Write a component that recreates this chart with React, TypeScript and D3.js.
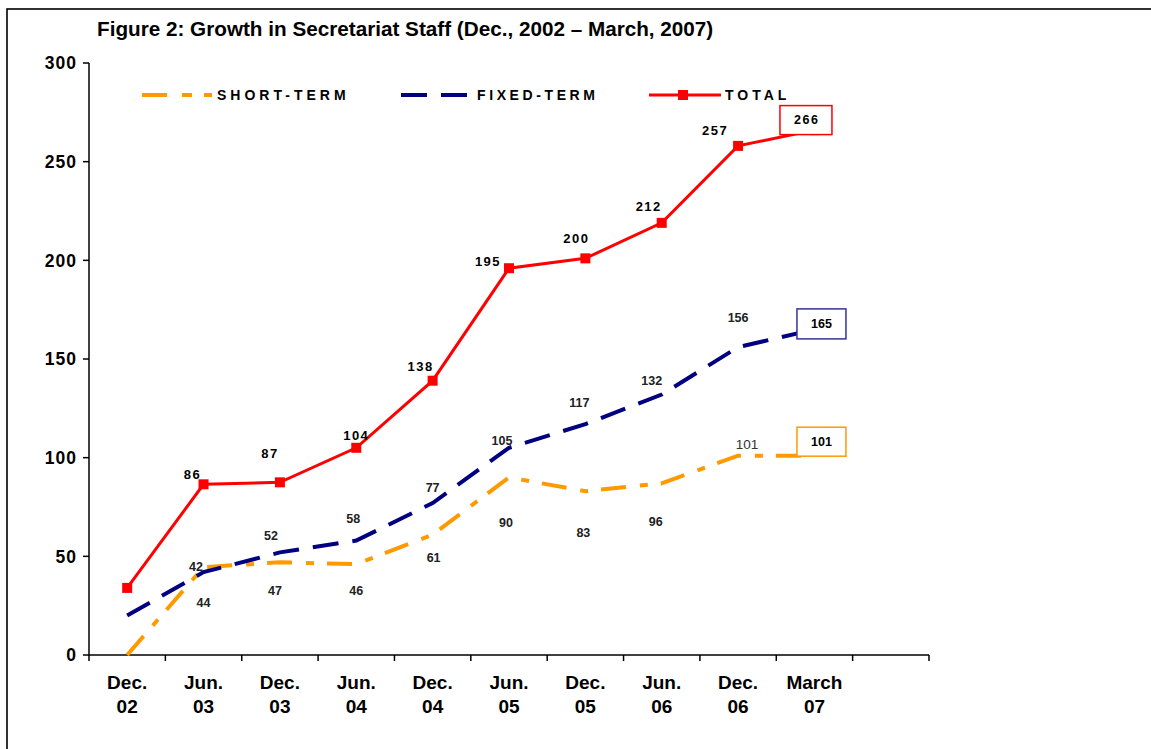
import React from "react";
import * as d3 from "d3";

const categories = ["Dec. 02", "Jun. 03", "Dec. 03", "Jun. 04", "Dec. 04", "Jun. 05", "Dec. 05", "Jun. 06", "Dec. 06", "March 07"];
const slotCount = 11; // one empty slot after the last category
const yTicks = [0, 50, 100, 150, 200, 250, 300];

const shortTerm = [0, 44.5, 47, 46, 61, 90, 83, 87, 101, 101];
const fixedTerm = [20, 42, 52, 58, 77, 105, 117, 132, 156, 165];
const total = [34, 86.5, 87.5, 105, 139, 196, 201, 219, 258, 266];

const shortLabels = ["", "44", "47", "46", "61", "90", "83", "96", "101", "101"];
const fixedLabels = ["", "42", "52", "58", "77", "105", "117", "132", "156", "165"];
const totalLabels = ["", "86", "87", "104", "138", "195", "200", "212", "257", "266"];

// label placement offsets (px) relative to the data point
const shortOff: [number, number][] = [[0, 0], [0, 35], [-5, 28], [0, 26], [1, 23], [-3, 45], [-2, 41], [-6, 38], [9, -11], [7, -14]];
const fixedOff: [number, number][] = [[0, 0], [-7.5, -5], [-9, -17], [-3, -22], [0, -15], [-7, -7], [-6, -21], [-10, -14], [0, -30], [7, -5.5]];
const totalOff: [number, number][] = [[0, 0], [-11, -10], [-10, -29], [0, -12], [-12, -14], [-21, -7], [-9, -20], [-13, -16], [-23, -15], [-8.5, -10]];

const FONT = "Arial, 'Liberation Sans', Helvetica, sans-serif";
const ORANGE = "#FF9900";
const NAVY = "#000080";
const RED = "#FF0000";

export default function App() {
  const W = 1151, H = 749;
  const x = d3.scaleBand<number>().domain(d3.range(slotCount)).range([89, 929]).padding(0);
  const cx = (i: number) => (x(i) as number) + x.bandwidth() / 2;
  const y = d3.scaleLinear().domain([0, 300]).range([655, 63]);

  const line = d3.line<number>().x((_, i) => cx(i)).y((d) => y(d));

  const lastIdx = categories.length - 1;

  const renderLabels = (vals: number[], labels: string[], off: [number, number][], style: any, skipLast: boolean) =>
    vals.map((v, i) => {
      if (!labels[i] || (skipLast && i === lastIdx)) return null;
      return (
        <text key={i} x={cx(i) + off[i][0]} y={y(v) + off[i][1]} dy="0.35em" textAnchor="middle" {...style}>
          {labels[i]}
        </text>
      );
    });

  const boxLabel = (vals: number[], labels: string[], off: [number, number][], color: string, w: number, h: number, ls: number) => {
    const bx = cx(lastIdx) + off[lastIdx][0];
    const by = y(vals[lastIdx]) + off[lastIdx][1];
    return (
      <g>
        <rect x={bx - w / 2} y={by - h / 2} width={w} height={h} fill="#fff" stroke={color} strokeWidth={1.5} />
        <text x={bx + ls / 2} y={by} dy="0.35em" textAnchor="middle" fontWeight="bold" fontSize={12.5} letterSpacing={ls} fill="#000">
          {labels[lastIdx]}
        </text>
      </g>
    );
  };

  return (
    <svg width={W} height={H} style={{ position: "absolute", left: 0, top: 0, background: "#fff" }} fontFamily={FONT}>
      <rect x={0} y={0} width={W} height={H} fill="#fff" />
      <rect x={7} y={9} width={W + 10} height={H + 10} fill="none" stroke="#000" strokeWidth={1.6} />

      <text x={97} y={36} fontSize={20.7} fontWeight="bold" fill="#000">
        Figure 2: Growth in Secretariat Staff (Dec., 2002 – March, 2007)
      </text>

      {/* Y axis */}
      <line x1={89} x2={89} y1={y(300)} y2={y(0)} stroke="#000" strokeWidth={1.5} />
      {yTicks.map((t) => (
        <g key={t}>
          <line x1={83} x2={89} y1={y(t)} y2={y(t)} stroke="#000" strokeWidth={1.5} />
          <text x={77} y={y(t)} dy="0.36em" textAnchor="end" fontSize={17.5} fontWeight="bold" letterSpacing={1} fill="#000">
            {t}
          </text>
        </g>
      ))}

      {/* X axis */}
      <line x1={89} x2={929} y1={y(0)} y2={y(0)} stroke="#000" strokeWidth={1.5} />
      {d3.range(slotCount + 1).map((i) => {
        const xx = i < slotCount ? (x(i) as number) : 929;
        return <line key={i} x1={xx} x2={xx} y1={y(0)} y2={y(0) + 6} stroke="#000" strokeWidth={1.5} />;
      })}
      {categories.map((c, i) => {
        const parts = c.split(" ");
        return (
          <text key={c} textAnchor="middle" fontSize={19} fontWeight="bold" fill="#000">
            <tspan x={cx(i)} y={689}>{parts[0]}</tspan>
            <tspan x={cx(i)} y={713}>{parts[1]}</tspan>
          </text>
        );
      })}

      {/* Lines */}
      <path d={line(shortTerm) || ""} fill="none" stroke={ORANGE} strokeWidth={4} strokeDasharray="25,14,8,13" />
      <path d={line(fixedTerm) || ""} fill="none" stroke={NAVY} strokeWidth={4} strokeDasharray="26,14" />
      <path d={line(total) || ""} fill="none" stroke={RED} strokeWidth={3} />
      {total.map((v, i) => (
        <rect key={i} x={cx(i) - 5} y={y(v) - 5} width={10} height={10} fill={RED} />
      ))}

      {/* Labels */}
      {renderLabels(shortTerm, shortLabels, shortOff, { fontSize: 12.5, fontWeight: "bold", fill: "#222" }, true).map((el, i) =>
        i === 8 && el ? React.cloneElement(el as any, { fontWeight: "normal", fontSize: 13.5, fill: "#333" }) : el
      )}
      {renderLabels(fixedTerm, fixedLabels, fixedOff, { fontSize: 12.5, fontWeight: "bold", fill: "#222" }, true)}
      {renderLabels(total, totalLabels, totalOff, { fontSize: 13, fontWeight: "bold", letterSpacing: 1.5, fill: "#000" }, true)}

      {boxLabel(total, totalLabels, totalOff, RED, 52, 29, 1.5)}
      {boxLabel(fixedTerm, fixedLabels, fixedOff, "#333399", 49, 30, 0)}
      {boxLabel(shortTerm, shortLabels, shortOff, ORANGE, 49, 29, 0)}

      {/* Legend */}
      <line x1={142} x2={212} y1={95} y2={95} stroke={ORANGE} strokeWidth={4} strokeDasharray="25,15,10,12" />
      <text x={217} y={100} fontSize={14} fontWeight="bold" letterSpacing={4} fill="#000">SHORT-TERM</text>
      <line x1={401} x2={467} y1={95} y2={95} stroke={NAVY} strokeWidth={4} strokeDasharray="26,14" />
      <text x={477} y={100} fontSize={14} fontWeight="bold" letterSpacing={3.6} fill="#000">FIXED-TERM</text>
      <line x1={649} x2={721} y1={95} y2={95} stroke={RED} strokeWidth={3} />
      <rect x={678} y={90} width={10} height={10} fill={RED} />
      <text x={725} y={100} fontSize={14} fontWeight="bold" letterSpacing={4} fill="#000">TOTAL</text>
    </svg>
  );
}
